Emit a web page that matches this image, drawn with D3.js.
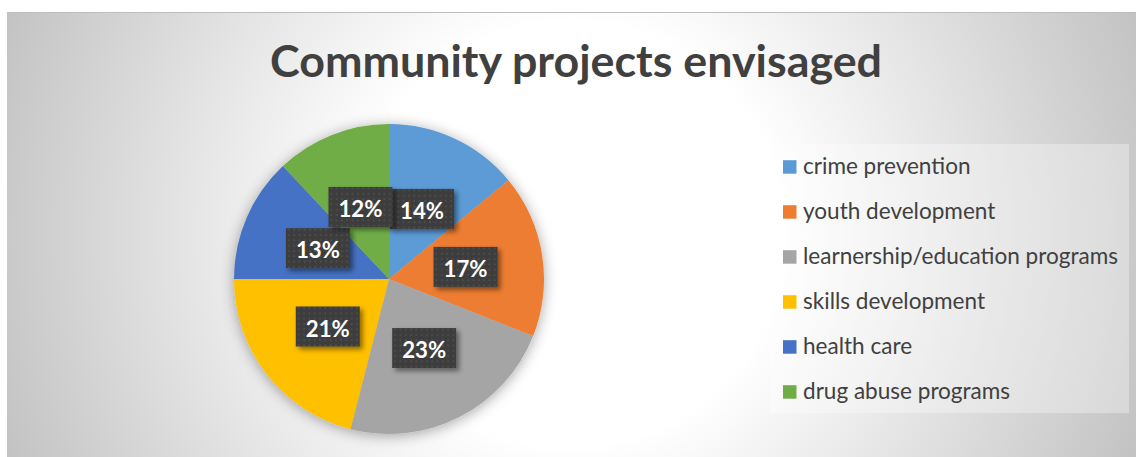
<!DOCTYPE html>
<html>
<head>
<meta charset="utf-8">
<script src="https://cdn.jsdelivr.net/npm/d3@7"></script>
<style>
  html, body { margin: 0; padding: 0; background: #fff; }
  svg { display: block; }
</style>
</head>
<body>
<svg id="chart" width="1136" height="457"></svg>
<script>
// Community project categories and their shares (%)
const categories = [
  "crime prevention",
  "youth development",
  "learnership/education programs",
  "skills development",
  "health care",
  "drug abuse programs"
];
const shares = [14, 17, 23, 21, 13, 12];
const colors = ["#5B9BD5", "#ED7D31", "#A5A5A5", "#FFC000", "#4472C4", "#70AD47"];
const title = "Community projects envisaged";

const W = 1136, H = 457;
const svg = d3.select("#chart");
const defs = svg.append("defs");

// Background: white centre fading to grey towards the sides
const bg = defs.append("radialGradient")
  .attr("id", "bgGrad")
  .attr("gradientUnits", "userSpaceOnUse")
  .attr("cx", 571).attr("cy", 234).attr("r", 605)
  .attr("fx", 571).attr("fy", 234);
bg.append("stop").attr("offset", 0).attr("stop-color", "#ffffff");
bg.append("stop").attr("offset", 0.35).attr("stop-color", "#ffffff");
bg.append("stop").attr("offset", 1).attr("stop-color", "#c3c3c3");

// Soft shadow around the pie
const pieShadow = defs.append("filter").attr("id", "pieShadow")
  .attr("x", "-20%").attr("y", "-20%").attr("width", "140%").attr("height", "140%");
pieShadow.append("feDropShadow")
  .attr("dx", 0).attr("dy", 2).attr("stdDeviation", 7)
  .attr("flood-color", "#000").attr("flood-opacity", 0.35);

// Shadow under data label boxes
const labelShadow = defs.append("filter").attr("id", "labelShadow")
  .attr("x", "-30%").attr("y", "-30%").attr("width", "160%").attr("height", "160%");
labelShadow.append("feDropShadow")
  .attr("dx", 3).attr("dy", 3).attr("stdDeviation", 2.5)
  .attr("flood-color", "#000").attr("flood-opacity", 0.45);

// Dotted texture for the data label boxes
const dots = defs.append("pattern").attr("id", "dots")
  .attr("patternUnits", "userSpaceOnUse").attr("width", 5.3).attr("height", 5.3);
dots.append("rect").attr("width", 5.3).attr("height", 5.3).attr("fill", "#3d3d3d");
dots.append("rect").attr("x", 2).attr("y", 2).attr("width", 1.6).attr("height", 1.6).attr("fill", "#525252");

// Chart area
svg.append("rect")
  .attr("x", 7).attr("y", 12).attr("width", W - 7).attr("height", H - 12)
  .attr("fill", "url(#bgGrad)");
svg.append("line")
  .attr("x1", 7).attr("x2", W).attr("y1", 12.5).attr("y2", 12.5)
  .attr("stroke", "#bdbdbd").attr("stroke-width", 1);

// Fit a text element to a target width by adjusting its font size
function fitWidth(sel, target) {
  const node = sel.node();
  const size = parseFloat(sel.attr("font-size"));
  const w = node.getComputedTextLength();
  if (w > 0) sel.attr("font-size", (size * target / w).toFixed(2));
}

// Title
const titleText = svg.append("text")
  .attr("x", 576).attr("y", 76.5)
  .attr("text-anchor", "middle")
  .attr("font-family", "Lato, 'Open Sans', sans-serif")
  .attr("font-weight", 700)
  .attr("font-size", 42)
  .attr("fill", "#404040")
  .text(title);
fitWidth(titleText, 612);

// Pie
const cx = 389, cy = 279, R = 155;
const pie = d3.pie().sort(null).value(d => d);
const arcs = pie(shares);
const arc = d3.arc().innerRadius(0).outerRadius(R);

const g = svg.append("g").attr("transform", `translate(${cx},${cy})`);
g.append("g").attr("filter", "url(#pieShadow)")
  .selectAll("path")
  .data(arcs)
  .join("path")
  .attr("d", arc)
  .attr("fill", (d, i) => colors[i]);

// Data labels at half radius
const bw = 64, bh = 40;
const labels = g.selectAll("g.lbl")
  .data(arcs)
  .join("g")
  .attr("class", "lbl")
  .attr("transform", d => {
    const [x, y] = arc.centroid(d);
    return `translate(${x},${y})`;
  });
labels.append("rect")
  .attr("x", -bw / 2).attr("y", -bh / 2)
  .attr("width", bw).attr("height", bh)
  .attr("fill", "url(#dots)")
  .attr("filter", "url(#labelShadow)");
const labelTexts = labels.append("text")
  .attr("text-anchor", "middle")
  .attr("y", 10)
  .attr("font-family", "Lato, 'Open Sans', sans-serif")
  .attr("font-weight", 700)
  .attr("font-size", 22)
  .attr("fill", "#ffffff")
  .text(d => d.data + "%");
const sample = labelTexts.filter(d => d.data === 17);
fitWidth(sample, 44);
labelTexts.attr("font-size", sample.attr("font-size"));

// Legend
const legend = svg.append("g");
legend.append("rect")
  .attr("x", 770).attr("y", 144).attr("width", 359).attr("height", 269)
  .attr("fill", "#ffffff").attr("fill-opacity", 0.32);
const rowY = d3.scalePoint().domain(categories).range([167, 392]);
const items = legend.selectAll("g.item")
  .data(categories)
  .join("g")
  .attr("class", "item")
  .attr("transform", d => `translate(783,${rowY(d)})`);
items.append("rect")
  .attr("x", 0).attr("y", -6.8).attr("width", 13.5).attr("height", 13.5)
  .attr("fill", (d, i) => colors[i]);
const legendTexts = items.append("text")
  .attr("x", 20).attr("y", 6.5)
  .attr("font-family", "Lato, 'Open Sans', sans-serif")
  .attr("font-size", 21)
  .attr("fill", "#404040")
  .text(d => d);
// size the legend font from the longest entry
const longest = legendTexts.filter(d => d === categories[2]);
fitWidth(longest, 315);
legendTexts.attr("font-size", longest.attr("font-size"));
</script>
</body>
</html>
